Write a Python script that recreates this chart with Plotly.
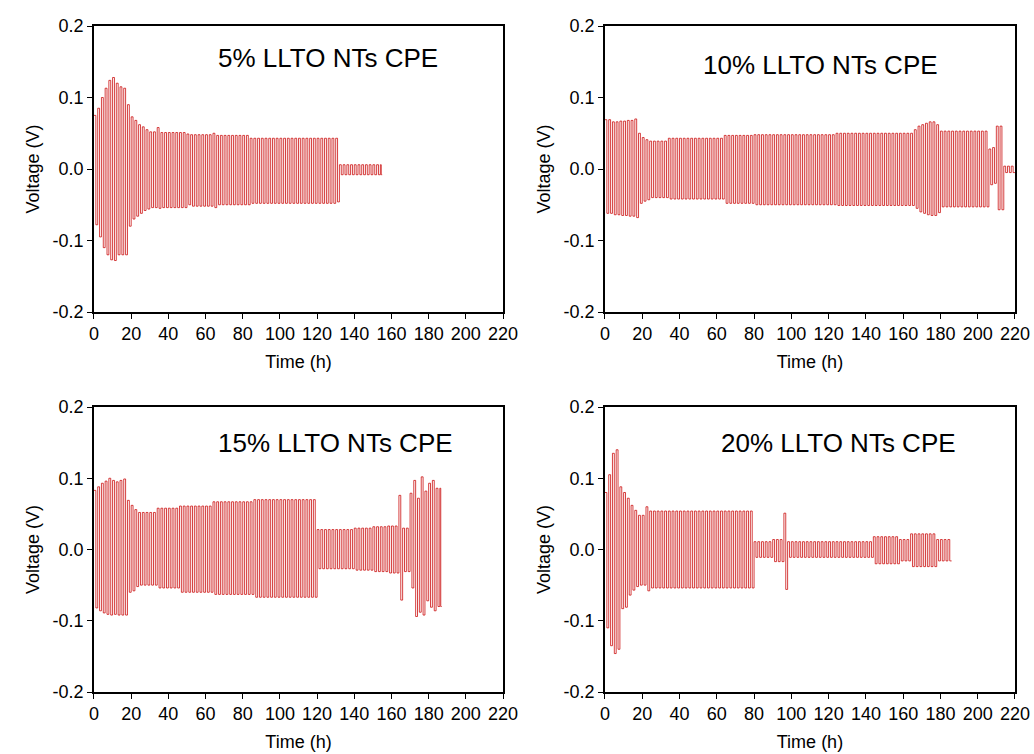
import plotly.graph_objects as go
from plotly.subplots import make_subplots

# ---- Data (segment start time h, upper V, lower V) ----
titles = ["5% LLTO NTs CPE", "10% LLTO NTs CPE", "15% LLTO NTs CPE", "20% LLTO NTs CPE"]
x_ticks = [0, 20, 40, 60, 80, 100, 120, 140, 160, 180, 200, 220]
y_ticks = [-0.2, -0.1, 0.0, 0.1, 0.2]
y_tick_text = ["-0.2", "-0.1", "0.0", "0.1", "0.2"]

# 5% LLTO NTs CPE
t_5 = [0, 2, 4, 6, 8, 10, 12, 14, 16, 18, 20, 22, 24, 26, 28, 30, 34, 36, 50, 52, 64, 66, 84, 130, 132]
up_5 = [0.075, 0.085, 0.100, 0.113, 0.124, 0.128, 0.120, 0.115, 0.113, 0.090, 0.073, 0.068, 0.062, 0.059,
        0.055, 0.052, 0.058, 0.051, 0.049, 0.048, 0.050, 0.047, 0.043, 0.043, 0.006]
lo_5 = [-0.078, -0.095, -0.110, -0.120, -0.127, -0.128, -0.120, -0.120, -0.120, -0.080, -0.070, -0.066,
        -0.062, -0.058, -0.056, -0.054, -0.055, -0.054, -0.050, -0.052, -0.054, -0.050, -0.048, -0.046, -0.008]
end_5 = 155

# 10% LLTO NTs CPE
t_10 = [0, 4, 8, 12, 16, 18, 20, 22, 24, 34, 64, 80, 124, 166, 168, 170, 172, 174, 178, 180, 206, 208, 210, 214]
up_10 = [0.069, 0.066, 0.067, 0.068, 0.070, 0.050, 0.044, 0.041, 0.039, 0.043, 0.047, 0.048, 0.050, 0.055,
         0.060, 0.062, 0.064, 0.066, 0.062, 0.053, 0.028, 0.030, 0.060, 0.004]
lo_10 = [-0.062, -0.064, -0.065, -0.066, -0.068, -0.048, -0.045, -0.043, -0.040, -0.042, -0.048, -0.050,
         -0.051, -0.055, -0.060, -0.062, -0.064, -0.065, -0.061, -0.053, -0.022, -0.020, -0.057, -0.005]
end_10 = 220

# 15% LLTO NTs CPE
t_15 = [0, 2, 4, 6, 8, 10, 12, 14, 16, 18, 20, 22, 24, 34, 46, 64, 86, 120, 140, 150, 158, 164, 166, 170,
        172, 174, 176, 178, 180, 182, 184]
up_15 = [0.083, 0.088, 0.093, 0.096, 0.100, 0.097, 0.095, 0.097, 0.099, 0.069, 0.062, 0.056, 0.052, 0.058,
         0.061, 0.067, 0.070, 0.028, 0.030, 0.032, 0.033, 0.076, 0.030, 0.079, 0.097, 0.072, 0.102, 0.082,
         0.093, 0.097, 0.086]
lo_15 = [-0.082, -0.086, -0.089, -0.091, -0.092, -0.091, -0.092, -0.092, -0.092, -0.060, -0.058, -0.052,
         -0.050, -0.054, -0.060, -0.063, -0.067, -0.027, -0.029, -0.031, -0.033, -0.071, -0.031, -0.054,
         -0.094, -0.088, -0.092, -0.072, -0.081, -0.086, -0.080]
end_15 = 187

# 20% LLTO NTs CPE
t_20 = [0, 2, 4, 6, 8, 10, 12, 14, 16, 18, 22, 24, 80, 90, 96, 98, 144, 158, 164, 178]
up_20 = [0.080, 0.105, 0.135, 0.140, 0.088, 0.080, 0.072, 0.062, 0.055, 0.048, 0.060, 0.054, 0.011, 0.014,
         0.051, 0.011, 0.018, 0.014, 0.022, 0.014]
lo_20 = [-0.110, -0.135, -0.146, -0.140, -0.083, -0.081, -0.064, -0.057, -0.052, -0.050, -0.058, -0.054,
         -0.011, -0.017, -0.056, -0.011, -0.020, -0.016, -0.024, -0.016]
end_20 = 186

panels = [(t_5, up_5, lo_5, end_5), (t_10, up_10, lo_10, end_10),
          (t_15, up_15, lo_15, end_15), (t_20, up_20, lo_20, end_20)]


def square_wave(starts, ups, los, end):
    xs, ys = [], []
    for i, s in enumerate(starts):
        e = starts[i + 1] if i + 1 < len(starts) else end
        c = s
        while c < e:
            half = min(1, (e - c) / 2)
            xs += [c, c + half, c + half, c + 2 * half]
            ys += [ups[i], ups[i], los[i], los[i]]
            c += 2 * half
    return xs, ys


FONT = "Liberation Sans, Arial, sans-serif"
fig = make_subplots(rows=2, cols=2, horizontal_spacing=0.0986, vertical_spacing=0.126)

positions = [(1, 1), (1, 2), (2, 1), (2, 2)]
for (r, c), (ts, ups, los, end) in zip(positions, panels):
    xs, ys = square_wave(ts, ups, los, end)
    fig.add_trace(go.Scatter(x=xs, y=ys, mode="lines",
                             line=dict(color="rgba(200,0,0,0.75)", width=1),
                             showlegend=False, hoverinfo="skip"), row=r, col=c)

dom_x = [[0.0909, 0.4865], [0.5851, 0.9816]]
dom_y = [[0.5862, 0.9655], [0.0822, 0.4602]]
for idx, (r, c) in enumerate(positions):
    n = idx + 1
    xa = "xaxis" if n == 1 else f"xaxis{n}"
    ya = "yaxis" if n == 1 else f"yaxis{n}"
    fig.layout[xa].update(domain=dom_x[c - 1], range=[0, 220], tickvals=x_ticks, automargin=False,
                          ticks="outside", ticklen=5, tickwidth=1.2, tickcolor="black",
                          showline=True, linecolor="black", linewidth=1.5, mirror=True,
                          showgrid=False, zeroline=False,
                          tickfont=dict(family=FONT, size=18, color="black"),
                          title=dict(text="Time (h)", font=dict(family=FONT, size=18, color="black"),
                                     standoff=12))
    fig.layout[ya].update(domain=dom_y[r - 1], range=[-0.2, 0.2], tickvals=y_ticks, automargin=False,
                          ticktext=y_tick_text,
                          ticks="outside", ticklen=5, tickwidth=1.2, tickcolor="black",
                          showline=True, linecolor="black", linewidth=1.5, mirror=True,
                          showgrid=False, zeroline=False,
                          tickfont=dict(family=FONT, size=18, color="black"),
                          title=dict(text="Voltage (V)", font=dict(family=FONT, size=18, color="black"),
                                     standoff=8))

# panel labels
label_pos = [(328, 58), (820, 65), (335, 443), (838, 443)]
for (px, py), txt in zip(label_pos, titles):
    fig.add_annotation(x=px / 1034, y=1 - py / 754, xref="paper", yref="paper",
                       text=txt, showarrow=False, xanchor="center", yanchor="middle",
                       font=dict(family=FONT, size=26, color="black"))

fig.update_layout(width=1034, height=754, margin=dict(l=0, r=0, t=0, b=0),
                  plot_bgcolor="white", paper_bgcolor="white")

fig.write_html("out.html", config={"displayModeBar": False},
               post_script="document.body.style.margin='0px';")
